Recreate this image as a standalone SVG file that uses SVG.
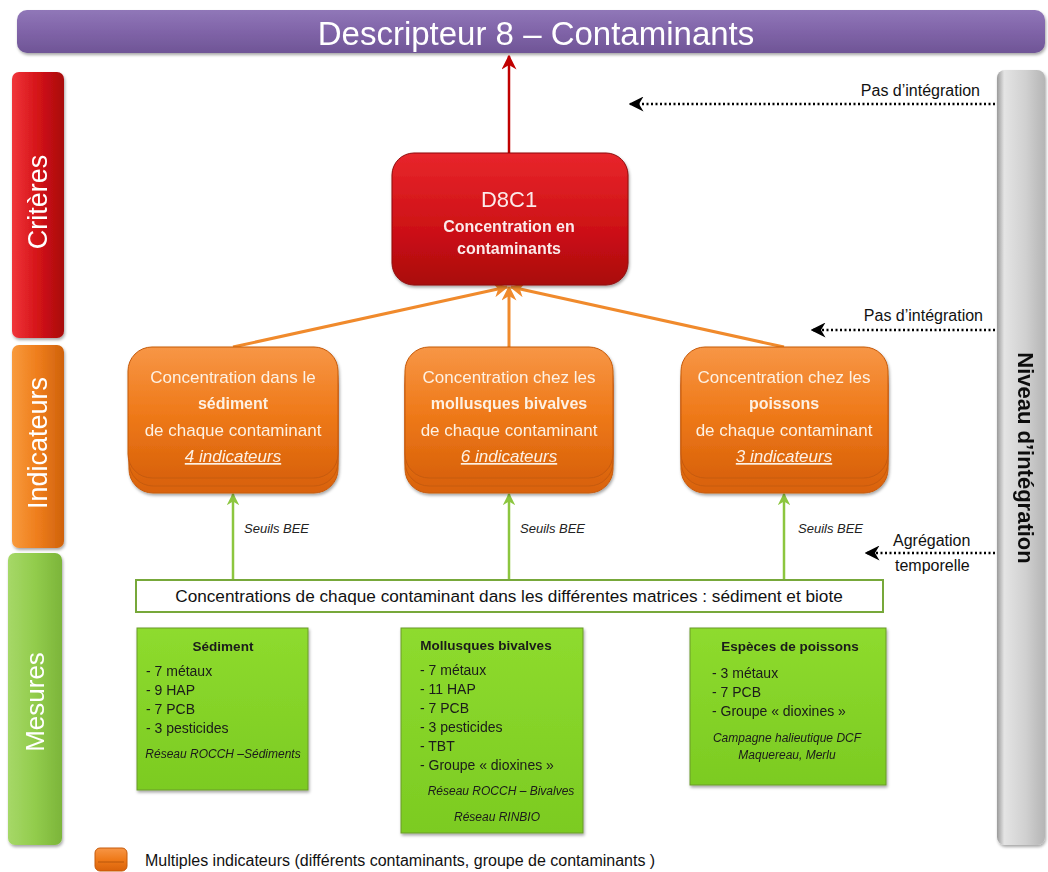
<svg xmlns="http://www.w3.org/2000/svg" width="1048" height="872" viewBox="0 0 1048 872">
<defs>
<linearGradient id="gPurple" x1="0" y1="0" x2="0" y2="1"><stop offset="0" stop-color="#9077b8"/><stop offset="0.5" stop-color="#8064a8"/><stop offset="1" stop-color="#6f5596"/></linearGradient>
<linearGradient id="gRed" x1="0" y1="0" x2="0" y2="1"><stop offset="0" stop-color="#e8262b"/><stop offset="0.6" stop-color="#cc1015"/><stop offset="1" stop-color="#a9090d"/></linearGradient>
<linearGradient id="gRedBar" x1="0" y1="0" x2="1" y2="0"><stop offset="0" stop-color="#f0353a"/><stop offset="0.5" stop-color="#d41318"/><stop offset="1" stop-color="#a8090c"/></linearGradient>
<linearGradient id="gOrange" x1="0" y1="0" x2="0" y2="1"><stop offset="0" stop-color="#f79646"/><stop offset="0.5" stop-color="#ef7a1a"/><stop offset="1" stop-color="#d9620a"/></linearGradient>
<linearGradient id="gOrangeBar" x1="0" y1="0" x2="1" y2="0"><stop offset="0" stop-color="#f89a3c"/><stop offset="0.5" stop-color="#ee7d1c"/><stop offset="1" stop-color="#cf620c"/></linearGradient>
<linearGradient id="gGreenBar" x1="0" y1="0" x2="1" y2="0"><stop offset="0" stop-color="#a6d868"/><stop offset="0.5" stop-color="#92cc4c"/><stop offset="1" stop-color="#7cb53a"/></linearGradient>
<linearGradient id="gGreen" x1="0" y1="0" x2="0" y2="1"><stop offset="0" stop-color="#8edb2e"/><stop offset="1" stop-color="#7ccb22"/></linearGradient>
<linearGradient id="gGray" x1="0" y1="0" x2="1" y2="0"><stop offset="0" stop-color="#9a9a9a"/><stop offset="0.15" stop-color="#e4e4e4"/><stop offset="0.6" stop-color="#d0d0d0"/><stop offset="1" stop-color="#b5b5b5"/></linearGradient>
<marker id="mRed" viewBox="0 0 10 10" refX="9" refY="5" markerWidth="6" markerHeight="6" orient="auto"><path d="M0,0 L10,5 L0,10 L3,5 z" fill="#c00000"/></marker>
<marker id="mOrange" viewBox="0 0 10 10" refX="9" refY="5" markerWidth="5" markerHeight="5" orient="auto"><path d="M0,0 L10,5 L0,10 L3,5 z" fill="#f08a2c"/></marker>
<marker id="mGreen" viewBox="0 0 10 10" refX="9" refY="5" markerWidth="5" markerHeight="5" orient="auto"><path d="M0,0 L10,5 L0,10 L3,5 z" fill="#8cc63f"/></marker>
<marker id="mBlack" viewBox="0 0 10 10" refX="9" refY="5" markerWidth="6" markerHeight="6" orient="auto"><path d="M0,0 L10,5 L0,10 L3,5 z" fill="#000"/></marker>
<filter id="sh" x="-10%" y="-10%" width="120%" height="130%"><feDropShadow dx="1" dy="2" stdDeviation="1.5" flood-color="#000" flood-opacity="0.35"/></filter>
</defs>
<style>
text{font-family:"Liberation Sans",Arial,sans-serif}
.w{fill:#fff}
.k{fill:#111}
.ot{fill:#fdf1e3;font-size:17px;text-anchor:middle}
.ob{font-weight:bold;font-size:16px}
.ou{font-style:italic;text-decoration:underline}
.gt{fill:#1a1a1a;font-size:14px}
.gb{font-weight:bold;text-anchor:middle;font-size:13.5px}
.gi{font-style:italic;text-anchor:middle;font-size:12px}
.dot{stroke:#000;stroke-width:2.5;stroke-dasharray:2 2.5;fill:none}
.lab{font-size:16px;fill:#111}
.seu{font-size:13px;font-style:italic;fill:#222}
.orng{fill:url(#gOrange);stroke:#c65a0a;stroke-width:1}
</style>

<g id="title" filter="url(#sh)">
<rect x="17" y="10" width="1028" height="43" rx="10" fill="url(#gPurple)"/>
<text x="536" y="45" class="w" font-size="33" text-anchor="middle">Descripteur 8 – Contaminants</text>
</g>

<g id="bar-criteres" filter="url(#sh)">
<rect x="12" y="72" width="52" height="266" rx="7" fill="url(#gRedBar)"/>
<text transform="translate(47,202) rotate(-90)" class="w" font-size="27" text-anchor="middle">Critères</text>
</g>
<g id="bar-indicateurs" filter="url(#sh)">
<rect x="12" y="345" width="52" height="203" rx="7" fill="url(#gOrangeBar)"/>
<text transform="translate(47,443) rotate(-90)" class="w" font-size="27" text-anchor="middle">Indicateurs</text>
</g>
<g id="bar-mesures" filter="url(#sh)">
<rect x="8" y="553" width="54" height="292" rx="7" fill="url(#gGreenBar)"/>
<text transform="translate(44,702) rotate(-90)" class="w" font-size="26" text-anchor="middle">Mesures</text>
</g>

<g id="bar-niveau" filter="url(#sh)">
<rect x="997" y="70" width="48" height="775" rx="8" fill="url(#gGray)"/>
<text transform="translate(1018,458) rotate(90)" class="k" font-size="22" font-weight="bold" text-anchor="middle">Niveau d’intégration</text>
</g>

<g id="connectors" fill="none">
<line x1="509" y1="153" x2="509" y2="56" stroke="#c00000" stroke-width="2.5" marker-end="url(#mRed)"/>
<line x1="233" y1="347" x2="507" y2="287" stroke="#f08a2c" stroke-width="3" marker-end="url(#mOrange)"/>
<line x1="509" y1="347" x2="509" y2="287" stroke="#f08a2c" stroke-width="3" marker-end="url(#mOrange)"/>
<line x1="784" y1="347" x2="511" y2="287" stroke="#f08a2c" stroke-width="3" marker-end="url(#mOrange)"/>
<line x1="233" y1="580" x2="233" y2="494" stroke="#8cc63f" stroke-width="2.5" marker-end="url(#mGreen)"/>
<line x1="509" y1="580" x2="509" y2="494" stroke="#8cc63f" stroke-width="2.5" marker-end="url(#mGreen)"/>
<line x1="784" y1="580" x2="784" y2="494" stroke="#8cc63f" stroke-width="2.5" marker-end="url(#mGreen)"/>
<line x1="995" y1="104" x2="630" y2="104" class="dot" marker-end="url(#mBlack)"/>
<line x1="995" y1="330" x2="812" y2="330" class="dot" marker-end="url(#mBlack)"/>
<line x1="995" y1="553" x2="866" y2="553" class="dot" marker-end="url(#mBlack)"/>
</g>

<g id="labels">
<text x="980" y="96" class="lab" text-anchor="end">Pas d’intégration</text>
<text x="983" y="321" class="lab" text-anchor="end">Pas d’intégration</text>
<text x="893" y="546" class="lab">Agrégation</text>
<text x="895" y="571" class="lab">temporelle</text>
<text x="244" y="533" class="seu">Seuils  BEE</text>
<text x="520" y="533" class="seu">Seuils  BEE</text>
<text x="798" y="533" class="seu">Seuils  BEE</text>
</g>

<g id="d8c1" filter="url(#sh)">
<rect x="392" y="153" width="236" height="132" rx="22" fill="url(#gRed)" stroke="#8e0a0d" stroke-width="1"/>
<text x="509" y="207" font-size="22" text-anchor="middle" fill="#fbeaea">D8C1</text>
<text x="509" y="232" font-size="16" font-weight="bold" text-anchor="middle" fill="#fbeaea">Concentration en</text>
<text x="509" y="254" font-size="16" font-weight="bold" text-anchor="middle" fill="#fbeaea">contaminants</text>
</g>

<g id="ind-sediment" filter="url(#sh)">
<rect x="129" y="361" width="209" height="132" rx="24" class="orng"/>
<rect x="129" y="354" width="209" height="132" rx="24" class="orng"/>
<rect x="128" y="347" width="210" height="131" rx="24" class="orng"/>
<text class="ot" x="233" y="383">Concentration dans le</text>
<text class="ot ob" x="233" y="409">sédiment</text>
<text class="ot" x="233" y="436">de chaque contaminant</text>
<text class="ot ou" x="233" y="462">4 indicateurs</text>
</g>

<g id="ind-mollusques" filter="url(#sh)">
<rect x="405" y="361" width="208" height="132" rx="24" class="orng"/>
<rect x="405" y="354" width="208" height="132" rx="24" class="orng"/>
<rect x="405" y="347" width="208" height="131" rx="24" class="orng"/>
<text class="ot" x="509" y="383">Concentration chez les</text>
<text class="ot ob" x="509" y="409">mollusques bivalves</text>
<text class="ot" x="509" y="436">de chaque contaminant</text>
<text class="ot ou" x="509" y="462">6 indicateurs</text>
</g>

<g id="ind-poissons" filter="url(#sh)">
<rect x="681" y="361" width="207" height="132" rx="24" class="orng"/>
<rect x="681" y="354" width="207" height="132" rx="24" class="orng"/>
<rect x="681" y="347" width="207" height="131" rx="24" class="orng"/>
<text class="ot" x="784" y="383">Concentration chez les</text>
<text class="ot ob" x="784" y="409">poissons</text>
<text class="ot" x="784" y="436">de chaque contaminant</text>
<text class="ot ou" x="784" y="462">3 indicateurs</text>
</g>

<g id="mesures-line">
<rect x="136" y="580" width="747" height="32" fill="#fff" stroke="#77a83a" stroke-width="2"/>
<text x="509" y="602" font-size="17.2" fill="#111" text-anchor="middle">Concentrations de chaque contaminant dans les différentes matrices : sédiment et biote</text>
</g>

<g id="m-sediment" filter="url(#sh)">
<rect x="137" y="628" width="171" height="162" fill="url(#gGreen)" stroke="#6a9a2a" stroke-width="1"/>
<text class="gt gb" x="223" y="651">Sédiment</text>
<text class="gt" x="146" y="676">- 7 métaux</text>
<text class="gt" x="146" y="695">-  9 HAP</text>
<text class="gt" x="146" y="714">-  7 PCB</text>
<text class="gt" x="146" y="733">- 3 pesticides</text>
<text class="gt gi" x="223" y="758">Réseau ROCCH –Sédiments</text>
</g>

<g id="m-mollusques" filter="url(#sh)">
<rect x="401" y="628" width="182" height="205" fill="url(#gGreen)" stroke="#6a9a2a" stroke-width="1"/>
<text class="gt gb" x="486" y="650">Mollusques bivalves</text>
<text class="gt" x="420" y="675">- 7 métaux</text>
<text class="gt" x="420" y="694">- 11 HAP</text>
<text class="gt" x="420" y="713">- 7 PCB</text>
<text class="gt" x="420" y="732">- 3 pesticides</text>
<text class="gt" x="420" y="751">- TBT</text>
<text class="gt" x="420" y="770">- Groupe « dioxines »</text>
<text class="gt gi" x="501" y="795">Réseau ROCCH – Bivalves</text>
<text class="gt gi" x="497" y="821">Réseau RINBIO</text>
</g>

<g id="m-poissons" filter="url(#sh)">
<rect x="690" y="628" width="196" height="157" fill="url(#gGreen)" stroke="#6a9a2a" stroke-width="1"/>
<text class="gt gb" x="790" y="651">Espèces de poissons</text>
<text class="gt" x="712" y="678">- 3 métaux</text>
<text class="gt" x="712" y="697">- 7 PCB</text>
<text class="gt" x="712" y="716">- Groupe « dioxines »</text>
<text class="gt gi" x="787" y="742">Campagne halieutique DCF</text>
<text class="gt gi" x="787" y="759">Maquereau, Merlu</text>
</g>

<g id="legend">
<rect x="95" y="848" width="32" height="23" rx="5" class="orng"/>
<line x1="98" y1="862" x2="124" y2="862" stroke="#b8560a" stroke-width="1"/>
<text x="145" y="866" font-size="16" fill="#111">Multiples indicateurs (différents contaminants, groupe de contaminants )</text>
</g>
</svg>
